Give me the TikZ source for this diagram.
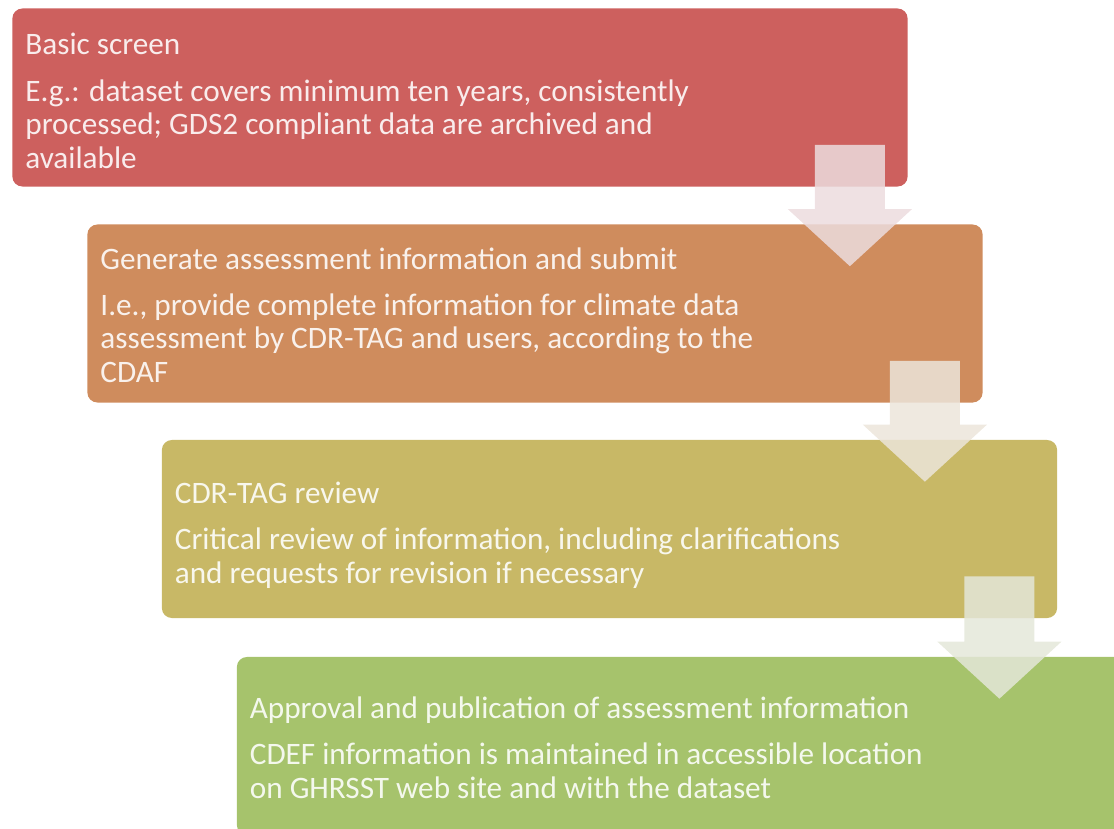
\documentclass[tikz,border=0pt]{standalone}
\usepackage{fontspec}
\setmainfont{Carlito}
\usetikzlibrary{calc}

\definecolor{screenred}{RGB}{205,96,94}
\definecolor{submitorange}{RGB}{207,140,93}
\definecolor{reviewolive}{RGB}{200,184,102}
\definecolor{approvegreen}{RGB}{166,195,108}
\definecolor{arrowpink}{RGB}{236,220,222}
\definecolor{arrowsand}{RGB}{236,229,218}
\definecolor{arrowsage}{RGB}{228,231,217}

\tikzset{
  stage/.style={fill=#1, rounded corners=0.25cm, minimum width=22.375cm,
    minimum height=4.45cm, inner sep=0pt},
  stagetext/.style={anchor=north west, inner sep=0pt, align=left,
    text=white!88!#1, font=\fontsize{22.2}{23.8}\selectfont},
  stepfill/.style={fill=#1, opacity=0.85},
}

% block arrow from the lower right of one stage into the next
\newcommand{\stepArrow}[3]{%
  \coordinate (arrtop) at ($(#1.south east)+(-58,-42)$);
  \coordinate (arrneck) at ($(arrtop |- #2.north)+(0,-15)$);
  \coordinate (arrtip) at ($(arrtop |- #2.north)+(0,42)$);
  \fill[stepfill=#3] ($(arrtop)+(-35,0)$) -- ($(arrtop)+(35,0)$)
    -- ($(arrneck)+(35,0)$) -- ($(arrneck)+(62,0)$) -- (arrtip)
    -- ($(arrneck)+(-62,0)$) -- ($(arrneck)+(-35,0)$) -- cycle;
}

\begin{document}
\begin{tikzpicture}[x=0.025cm,y=-0.025cm]
\clip (0,0) rectangle (1114,829);

\node[stage=screenred] (screen) at (460,97.5) {};
\node[stage=submitorange] (submit) at (535,313.5) {};
\node[stage=reviewolive] (review) at (609.5,529) {};
\node[stage=approvegreen] (approve) at (684.5,746) {};

\node[stagetext=screenred] (screentxt) at ($(screen.north west)+(13,25)$)
  {Basic screen\\[9pt]E.g.: dataset covers minimum ten years, consistently\\
   processed; GDS2 compliant data are archived and\\available};
\node[stagetext=submitorange] (submittxt) at ($(submit.north west)+(13,23)$)
  {Generate assessment information and submit\\[9pt]I.e., provide complete information for climate data\\
   assessment by CDR-TAG and users, according to the\\CDAF};
\node[stagetext=reviewolive] (reviewtxt) at ($(review.north west)+(13,42)$)
  {CDR-TAG review\\[9pt]Critical review of information, including clarifications\\
   and requests for revision if necessary};
\node[stagetext=approvegreen] (approvetxt) at ($(approve.north west)+(13,40)$)
  {Approval and publication of assessment information\\[9pt]CDEF information is maintained in accessible location\\
   on GHRSST web site and with the dataset};

\stepArrow{screen}{submit}{arrowpink}
\stepArrow{submit}{review}{arrowsand}
\stepArrow{review}{approve}{arrowsage}
\end{tikzpicture}
\end{document}
